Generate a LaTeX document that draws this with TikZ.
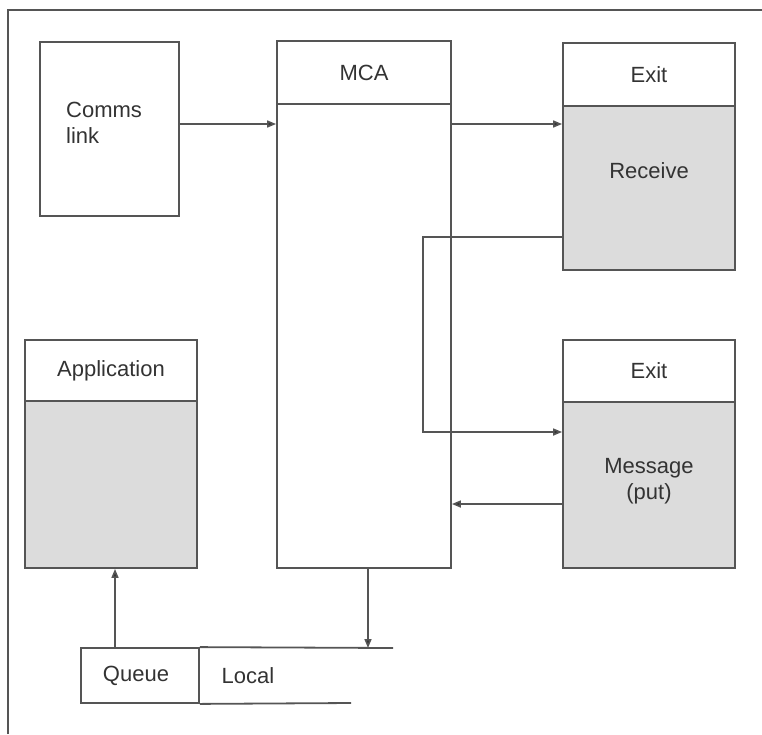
\documentclass[tikz,border=0pt]{standalone}
\usepackage{fontspec}
\setmainfont{Liberation Sans}
\usetikzlibrary{arrows.meta}
\definecolor{ln}{HTML}{555555}
\definecolor{tx}{HTML}{333333}
\definecolor{shade}{HTML}{DCDCDC}
\begin{document}
\begin{tikzpicture}[x=1pt,y=-1pt,
  box/.style={draw=ln, line width=1.8pt, rectangle, inner sep=0pt, text=tx,
    font=\fontsize{22}{26.4}\selectfont},
  txt/.style={inner sep=0pt, text=tx, font=\fontsize{22}{26.4}\selectfont},
  arr/.style={draw=ln, line width=1.6pt, -{Triangle[length=9pt,width=7pt,fill=tx]}},
  ln/.style={draw=ln, line width=1.8pt}]
\useasboundingbox (0,0) rectangle (762,734);
% frame
\coordinate (fb) at (8,734);
\coordinate (ft) at (8,10);
\coordinate (fr) at (762,10);
\draw[ln] (fb) -- (ft) -- (fr);
% Comms link
\node[box, minimum width=139pt, minimum height=174pt] (comms) at (109.5,129) {};
\node[txt, anchor=west, align=left] (commst) at (66,123) {Comms\\link};
% MCA
\node[box, minimum width=174pt, minimum height=63pt] (mcah) at (364,72.5) {MCA};
\node[box, minimum width=174pt, minimum height=464pt] (mcab) at (364,336) {};
% Exit receive
\node[box, minimum width=172pt, minimum height=63pt] (rh) at (649,74.5) {Exit};
\node[box, fill=shade, minimum width=172pt, minimum height=164pt] (rb) at (649,188) {};
\node[txt] (rt) at (649,171) {Receive};
% Exit message
\node[box, minimum width=172pt, minimum height=62pt] (mh) at (649,371) {Exit};
\node[box, fill=shade, minimum width=172pt, minimum height=166pt] (mb) at (649,485) {};
\node[txt, align=center] (mt) at (649,481) {Message\\(put)};
% Application
\node[box, minimum width=172pt, minimum height=61pt] (ah) at (111,370.5) {Application};
\node[box, fill=shade, minimum width=172pt, minimum height=167pt] (ab) at (111,484.5) {};
% Queue
\node[box, minimum width=118pt, minimum height=55pt] (queue) at (140,675.5) {};
\node[txt] (queuet) at (136,676) {Queue};
\node[txt] (local) at (248,676) {Local};
\coordinate (qtr) at (393,648);
\coordinate (qbr) at (351,703);
\draw[ln] (queue.north east) -- (qtr);
\draw[ln] (queue.south east) -- (qbr);
% connectors
\coordinate (y1) at (0,124);
\draw[arr] (comms.east |- y1) -- (mcab.west |- y1);
\draw[arr] (mcab.east |- y1) -- (rb.west |- y1);
\coordinate (c1) at (423,237);
\coordinate (c2) at (423,432);
\draw[arr] (rb.west |- c1) -- (c1) -- (c2) -- (mb.west |- c2);
\coordinate (y2) at (0,504);
\draw[arr] (mb.west |- y2) -- (mcab.east |- y2);
\coordinate (qd) at (368,648);
\draw[arr] (mcab.south -| qd) -- (qd);
\coordinate (qa) at (115,648);
\draw[arr] (qa) -- (ab.south -| qa);
\end{tikzpicture}
\end{document}
